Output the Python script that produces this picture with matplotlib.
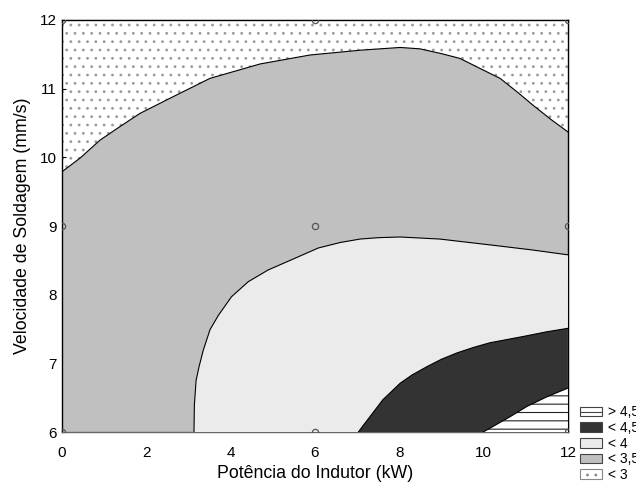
import numpy as np
import matplotlib.pyplot as plt
from matplotlib.patches import Patch

plt.rcParams['font.family'] = ['Liberation Sans', 'DejaVu Sans']
plt.rcParams['hatch.linewidth'] = 0.8

# contour boundaries (x = kW, y = mm/s)
c3_x = [0, 0.43, 0.9, 1.38, 1.85, 2.56, 3.51, 4.70, 5.88, 7.07, 8.02, 8.49,
        9.0, 9.44, 9.83, 10.39, 10.8, 11.17, 11.6, 12]
c3_y = [9.79, 9.99, 10.25, 10.45, 10.64, 10.86, 11.15, 11.36, 11.49, 11.56, 11.60, 11.58,
        11.51, 11.44, 11.32, 11.15, 10.95, 10.76, 10.55, 10.37]

c35_x = [3.13, 3.14, 3.18, 3.25, 3.35, 3.51, 3.71, 4.02, 4.42, 4.89, 5.45, 6.08,
         6.6, 7.07, 7.5, 8.02, 8.96, 10.22, 11.17, 12]
c35_y = [6.0, 6.4, 6.75, 6.95, 7.19, 7.49, 7.70, 7.97, 8.19, 8.36, 8.51, 8.68,
         8.76, 8.81, 8.83, 8.84, 8.81, 8.72, 8.65, 8.58]

c4_x = [7.03, 7.15, 7.30, 7.61, 8.02, 8.3, 8.65, 9.0, 9.36, 9.75, 10.15, 10.93, 11.5, 12]
c4_y = [6.0, 6.1, 6.22, 6.47, 6.71, 6.83, 6.95, 7.06, 7.15, 7.23, 7.30, 7.39, 7.46, 7.51]

c45_x = [9.99, 10.22, 10.62, 11.02, 11.49, 12]
c45_y = [6.0, 6.08, 6.22, 6.37, 6.51, 6.64]

# design points
pts_x = [0, 0, 0, 6, 6, 6, 12, 12, 12]
pts_y = [6, 9, 12, 6, 9, 12, 6, 9, 12]

labels = ['> 4,5', '< 4,5', '< 4', '< 3,5', '< 3']

fig = plt.figure(figsize=(6.36, 4.84), dpi=100)
ax = fig.add_axes([0.0975, 0.1074, 0.7955, 0.8513])
ax.set_xlim(0, 12)
ax.set_ylim(6, 12)

# dotted background (< 3)
ax.fill([0, 12, 12, 0], [6, 6, 12, 12], facecolor='white', edgecolor='#9a9a9a',
        hatch='..', linewidth=0, zorder=1)
# < 3.5
ax.fill(c3_x + [12, 0], c3_y + [6, 6], facecolor='#c0c0c0', linewidth=0, zorder=2)
# < 4
ax.fill(c35_x + [12], c35_y + [6], facecolor='#ebebeb', linewidth=0, zorder=3)
# < 4.5
ax.fill(c4_x + [12], c4_y + [6], facecolor='#333333', linewidth=0, zorder=4)
# > 4.5
ax.fill(c45_x + [12], c45_y + [6], facecolor='white', edgecolor='#222222',
        hatch='--', linewidth=0, zorder=5)

for cx, cy in [(c3_x, c3_y), (c35_x, c35_y), (c4_x, c4_y), (c45_x, c45_y)]:
    ax.plot(cx, cy, color='black', lw=0.8, zorder=6)

ax.plot(pts_x, pts_y, 'o', ms=4.5, mfc='none', mec='#555555', mew=0.9, zorder=7)

ax.set_xticks(np.arange(0, 13, 2))
ax.set_yticks(np.arange(6, 13, 1))
ax.tick_params(direction='in', length=3, labelsize=11, width=0.8)
ax.tick_params(axis='x', pad=10)
ax.tick_params(axis='y', pad=4)

top = ax.secondary_xaxis('top')
top.set_xticks(np.arange(0, 12.1, 1.5))
top.tick_params(direction='in', length=3, labeltop=False, width=0.8)
right = ax.secondary_yaxis('right')
right.set_yticks(np.arange(6, 12.1, 0.75))
right.tick_params(direction='in', length=3, labelright=False, width=0.8)
for s in ax.spines.values():
    s.set_linewidth(1.0)
ax.spines['bottom'].set_color('#666666')

ax.set_xlabel('Potência do Indutor (kW)', fontsize=12.8, labelpad=4)
ax.set_ylabel('Velocidade de Soldagem (mm/s)', fontsize=12.8, labelpad=6)

handles = [
    Patch(facecolor='white', edgecolor='#444444', hatch='--', lw=0.8),
    Patch(facecolor='#333333', edgecolor='#444444', lw=0.8),
    Patch(facecolor='#ebebeb', edgecolor='#444444', lw=0.8),
    Patch(facecolor='#c0c0c0', edgecolor='#444444', lw=0.8),
    Patch(facecolor='white', edgecolor='#888888', hatch='..', lw=0.8),
]
fig.legend(handles, labels, loc='lower left', bbox_to_anchor=(580 / 636, 2 / 484),
           frameon=False, fontsize=10, handlelength=1.58, handleheight=0.72,
           handletextpad=0.43, labelspacing=0.12, borderpad=0, borderaxespad=0)

fig.savefig('out.png', dpi=100)
